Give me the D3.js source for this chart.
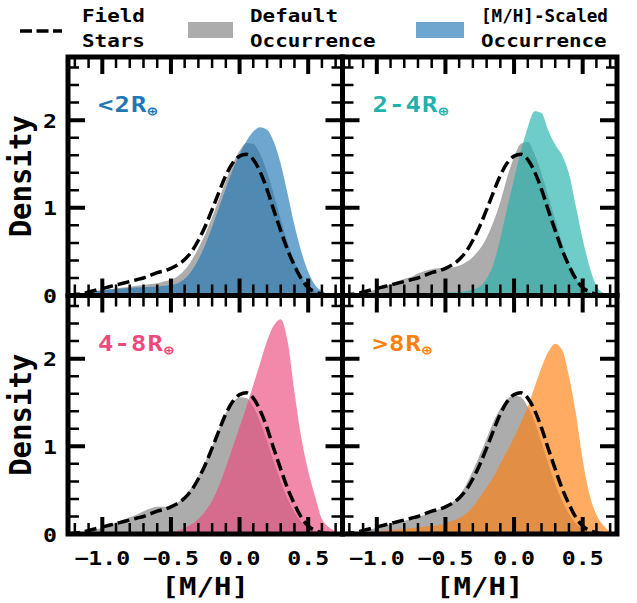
<!DOCTYPE html>
<html><head><meta charset="utf-8">
<script src="https://cdn.jsdelivr.net/npm/d3@7"></script>
<style>
body{margin:0;background:#fff}
text{font-family:"DejaVu Sans Mono",monospace;font-weight:bold}
</style>
</head><body><svg id="c" width="637" height="603"></svg>
<script>
// ---------------- DATA ----------------
const metallicity = [-1.25,-1.2,-1.15,-1.1,-1.05,-1.0,-0.95,-0.9,-0.85,-0.8,-0.75,-0.7,-0.65,-0.6,-0.55,-0.5,-0.45,-0.4,-0.35,-0.3,-0.25,-0.2,-0.15,-0.1,-0.05,0,0.05,0.1,0.15,0.2,0.25,0.3,0.35,0.4,0.45,0.5,0.55,0.6,0.65,0.7,0.75];
const fieldStars = [0,0.01,0.02,0.04,0.06,0.08,0.10,0.12,0.14,0.16,0.18,0.20,0.23,0.26,0.28,0.31,0.35,0.41,0.50,0.63,0.79,0.98,1.18,1.37,1.51,1.59,1.61,1.55,1.41,1.21,0.97,0.74,0.52,0.34,0.19,0.09,0.04,0.015,0.005,0,0];
const defaultLt2 = [0,0.005,0.015,0.03,0.05,0.06,0.07,0.08,0.09,0.10,0.11,0.12,0.13,0.14,0.16,0.18,0.22,0.29,0.40,0.54,0.70,0.89,1.10,1.31,1.50,1.65,1.74,1.73,1.61,1.41,1.15,0.87,0.61,0.39,0.22,0.11,0.05,0.02,0.006,0,0];
const scaledLt2 = [0,0.01,0.02,0.04,0.05,0.06,0.07,0.075,0.08,0.085,0.09,0.095,0.10,0.10,0.11,0.12,0.14,0.19,0.28,0.41,0.58,0.78,1.0,1.22,1.43,1.61,1.76,1.87,1.92,1.89,1.75,1.5,1.16,0.8,0.5,0.27,0.12,0.05,0.015,0.005,0];
const default2to4 = [0,0.01,0.02,0.03,0.05,0.07,0.1,0.13,0.16,0.19,0.21,0.25,0.28,0.3,0.31,0.31,0.32,0.34,0.38,0.44,0.53,0.66,0.84,1.07,1.35,1.58,1.73,1.75,1.61,1.39,1.13,0.86,0.6,0.38,0.21,0.1,0.04,0.015,0.005,0,0];
const scaled2to4 = [0,0.003,0.005,0.007,0.008,0.01,0.012,0.014,0.016,0.018,0.02,0.022,0.025,0.028,0.03,0.033,0.036,0.04,0.05,0.07,0.1,0.19,0.36,0.65,1.0,1.33,1.65,1.92,2.1,2.08,1.88,1.72,1.6,1.39,1.02,0.64,0.33,0.11,0.03,0.005,0];
const default4to8 = [0,0.005,0.01,0.03,0.05,0.07,0.1,0.13,0.16,0.19,0.22,0.26,0.29,0.31,0.31,0.32,0.36,0.43,0.53,0.66,0.82,1.0,1.2,1.38,1.5,1.56,1.55,1.45,1.28,1.06,0.82,0.6,0.4,0.25,0.14,0.07,0.03,0.01,0.003,0,0];
const scaled4to8 = [0,0,0,0,0,0.001,0.001,0.002,0.002,0.003,0.003,0.004,0.004,0.005,0.01,0.02,0.04,0.07,0.11,0.17,0.26,0.38,0.55,0.76,0.99,1.22,1.45,1.7,1.95,2.2,2.38,2.45,2.2,1.62,1.1,0.72,0.43,0.17,0.08,0.03,0.01];
const defaultGt8 = [0,0.005,0.015,0.03,0.05,0.07,0.09,0.11,0.13,0.15,0.17,0.19,0.22,0.25,0.28,0.31,0.36,0.44,0.56,0.72,0.9,1.09,1.28,1.43,1.54,1.58,1.56,1.45,1.28,1.05,0.8,0.57,0.38,0.23,0.12,0.06,0.025,0.01,0,0,0];
const scaledGt8 = [0,0.005,0.01,0.015,0.02,0.03,0.037,0.045,0.052,0.06,0.067,0.075,0.082,0.09,0.1,0.12,0.15,0.18,0.23,0.31,0.42,0.53,0.65,0.8,0.95,1.1,1.27,1.45,1.68,1.9,2.08,2.17,2.1,1.8,1.38,0.85,0.45,0.22,0.1,0.03,0.01];

const panelLabels = ["<2R", "2-4R", "4-8R", ">8R"];
const panelColors = ["#1f77b4", "#20b2aa", "#ec4a7c", "#ff7f0e"];
const xMajorTicks = [-1.0, -0.5, 0.0, 0.5];
const xTickLabels = ["\u22121.0", "\u22120.5", "0.0", "0.5"];
const xMinorTicks = [-1.2,-1.1,-0.9,-0.8,-0.7,-0.6,-0.4,-0.3,-0.2,-0.1,0.1,0.2,0.3,0.4,0.6,0.7];
const yMajorTicks = [0, 1, 2];
const yTickLabels = ["0", "1", "2"];
const yMinorTicks = [0.2,0.4,0.6,0.8,1.2,1.4,1.6,1.8,2.2,2.4,2.6];
const legendLabels = [["Field","Stars"],["Default","Occurrence"],["[M/H]-Scaled","Occurrence"]];
const xLabel = "[M/H]";
const yLabel = "Density";

// ---------------- LAYOUT ----------------
const svg = d3.select("#c");
svg.append("rect").attr("width",637).attr("height",603).attr("fill","#fff");
const colsX = [[68,342.5],[342.5,617]];
const rowsY = [[57,295.5],[295.5,534]];
const SX = 1.16; // horizontal glyph stretch
const grayFill = "#808080", alpha = 0.65;
const TICK_COLOR = "#000";

const defaults = [defaultLt2, default2to4, default4to8, defaultGt8];
const scaleds = [scaledLt2, scaled2to4, scaled4to8, scaledGt8];

function stretchedText(g, x, y, str, size, anchor, fill, width) {
  const t = g.append("text")
    .attr("text-anchor", anchor).attr("font-size", size)
    .attr("fill", fill || "#000").text(str);
  let sx = SX;
  if (width) sx = width / t.node().getComputedTextLength();
  t.attr("transform", `translate(${x},${y}) scale(${sx},1)`);
  return t;
}

const panels = [];
for (let i = 0; i < 4; i++) {
  const c = i % 2, r = Math.floor(i / 2);
  const x = d3.scaleLinear().domain([-1.25, 0.75]).range(colsX[c]);
  const y = d3.scaleLinear().domain([0, 2.72]).range([rowsY[r][1], rowsY[r][0]]);
  panels.push({i, c, r, x, y});
}

const defs = svg.append("defs");
panels.forEach(p => {
  defs.append("clipPath").attr("id", "clip" + p.i).append("rect")
    .attr("x", p.x.range()[0]).attr("y", p.y.range()[1])
    .attr("width", p.x.range()[1] - p.x.range()[0])
    .attr("height", p.y.range()[0] - p.y.range()[1]);
});

panels.forEach(p => {
  const g = svg.append("g").attr("clip-path", `url(#clip${p.i})`);
  const area = d3.area().x((d, k) => p.x(metallicity[k])).y0(p.y(0)).y1(d => p.y(d)).curve(d3.curveMonotoneX);
  const line = d3.line().x((d, k) => p.x(metallicity[k])).y(d => p.y(d)).curve(d3.curveMonotoneX);
  g.append("path").datum(defaults[p.i]).attr("d", area).attr("fill", grayFill).attr("fill-opacity", alpha);
  g.append("path").datum(scaleds[p.i]).attr("d", area).attr("fill", panelColors[p.i]).attr("fill-opacity", alpha);
  g.append("path").datum(fieldStars).attr("d", line).attr("fill", "none").attr("stroke", "#000")
    .attr("stroke-width", 3.5).attr("stroke-dasharray", "12,5");
});

panels.forEach(p => {
  const [x0, x1] = p.x.range(); const [yb, yt] = p.y.range();
  const g = svg.append("g");
  [[xMinorTicks, yMinorTicks, 11, 2.5], [xMajorTicks, yMajorTicks, 17, 4]].forEach(([xs, ys, len, w]) => {
    let d = "";
    xs.forEach(v => {
      const xv = p.x(v);
      d += `M${xv},${yb}V${yb - len}M${xv},${yt}V${yt + len}`;
    });
    ys.forEach(v => {
      const yv = p.y(v);
      d += `M${x0},${yv}H${x0 + len}M${x1},${yv}H${x1 - len}`;
    });
    g.append("path").attr("d", d).attr("fill", "none").attr("stroke", TICK_COLOR).attr("stroke-width", w);
  });
  g.append("rect").attr("x", x0).attr("y", yt).attr("width", x1 - x0).attr("height", yb - yt)
    .attr("fill", "none").attr("stroke", "#000").attr("stroke-width", 5);

  const t = g.append("text")
    .attr("transform", `translate(${x0 + 30},${yt + 55}) scale(${SX},1)`)
    .attr("font-size", 22).attr("fill", panelColors[p.i]).attr("letter-spacing", 1);
  t.append("tspan").text(panelLabels[p.i]);
  t.append("tspan").attr("font-size", 14).attr("dy", 4).text("\u2295");

  if (p.r === 1) {
    xMajorTicks.forEach((v, k) => stretchedText(svg, p.x(v), 565, xTickLabels[k], 20, "middle"));
    stretchedText(svg, (x0 + x1) / 2, 595, xLabel, 25, "middle");
  }
  if (p.c === 0) {
    yMajorTicks.forEach((v, k) => stretchedText(svg, 57, p.y(v) + 7.5, yTickLabels[k], 20, "end"));
    svg.append("text")
      .attr("transform", `translate(31,${(yb + yt) / 2}) scale(1.05,1) rotate(-90)`)
      .attr("text-anchor", "middle").attr("font-size", 29).text(yLabel);
  }
});

const lg = svg.append("g");
lg.append("line").attr("x1", 20).attr("x2", 62).attr("y1", 31).attr("y2", 31)
  .attr("stroke", "#000").attr("stroke-width", 3.5).attr("stroke-dasharray", "12,4.5");
lg.append("rect").attr("x", 188).attr("y", 22).attr("width", 45).attr("height", 16)
  .attr("fill", grayFill).attr("fill-opacity", alpha);
lg.append("rect").attr("x", 416).attr("y", 22).attr("width", 48).attr("height", 16)
  .attr("fill", panelColors[0]).attr("fill-opacity", alpha);
const legendX = [82, 250, 481];
const legendW = [[null, null], [null, null], [127, null]];
legendLabels.forEach((lines, k) => {
  lines.forEach((s, j) => stretchedText(lg, legendX[k], 22 + j * 25, s, 18, "start", "#000", legendW[k][j]));
});
</script></body></html>
